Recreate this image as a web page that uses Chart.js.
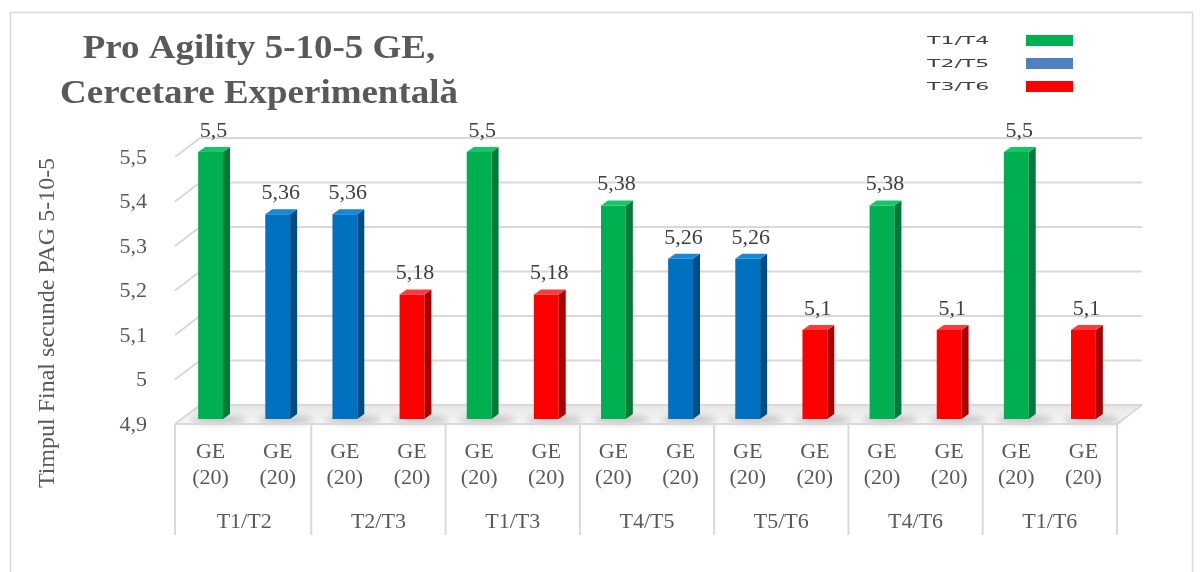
<!DOCTYPE html>
<html>
<head>
<meta charset="utf-8">
<script src="https://cdn.jsdelivr.net/npm/chart.js@4.4.1/dist/chart.umd.min.js"></script>
<style>
    html, body { margin: 0; padding: 0; background: #fff; }
</style>
</head>
<body>
<canvas id="barCanvas" width="1201" height="572"></canvas>
<script>
// valorile
const groupLabels = ["T1/T2", "T2/T3", "T1/T3", "T4/T5", "T5/T6", "T4/T6", "T1/T6"]
const barLabels = groupLabels.flatMap(() => [["GE", "(20)"], ["GE", "(20)"]])
const barTests = ["T1", "T2", "T2", "T3", "T1", "T3", "T4", "T5", "T5", "T6", "T4", "T6", "T1", "T6"]
const barValues = [5.5, 5.36, 5.36, 5.18, 5.5, 5.18, 5.38, 5.26, 5.26, 5.1, 5.38, 5.1, 5.5, 5.1]
const seriesNames = ["T1/T4", "T2/T5", "T3/T6"]
const yTicks = [4.9, 5, 5.1, 5.2, 5.3, 5.4, 5.5]

// culori
const frontColors = ["#00B050", "#0070C0", "#FF0000"]
const sideColors = ["#007A38", "#004C84", "#A80000"]
const topColors = ["#14C764", "#1A86D6", "#FF3B3B"]
const legendColors = ["#00B050", "#4F81BD", "#FF0000"]
const textGray = "#595959"

// bara -> seria (T1/T4, T2/T5, T3/T6)
function serieDe(i) {
    return seriesNames.findIndex(s => s.split("/").includes(barTests[i]))
}
function virgula(v) {
    return String(Math.round(v * 100) / 100).replace(".", ",")
}

const DX = 25, BACK = -14, FRONT = 5 // perspectiva 3D

const decor = {
    id: "decor",
    beforeDraw(chart) {
        const ctx = chart.ctx, a = chart.chartArea, y = chart.scales.y, x = chart.scales.x
        ctx.save()
        // cadrul exterior
        ctx.strokeStyle = "#d9d9d9"
        ctx.lineWidth = 1.5
        ctx.beginPath()
        ctx.moveTo(10.5, 572); ctx.lineTo(10.5, 12.5); ctx.lineTo(1192.5, 12.5); ctx.lineTo(1192.5, 572)
        ctx.stroke()

        const base = y.getPixelForValue(yTicks[0])
        // podeaua
        const grad = ctx.createLinearGradient(0, base + BACK, 0, base + FRONT)
        grad.addColorStop(0, "#e6e6e6")
        grad.addColorStop(1, "#f7f7f7")
        ctx.fillStyle = grad
        ctx.beginPath()
        ctx.moveTo(a.left - 2, base + FRONT)
        ctx.lineTo(a.left - 2 + DX, base + BACK)
        ctx.lineTo(a.right + DX, base + BACK)
        ctx.lineTo(a.right, base + FRONT)
        ctx.closePath()
        ctx.fill()

        // grila 3D
        ctx.strokeStyle = "#d9d9d9"
        ctx.lineWidth = 2
        yTicks.forEach(v => {
            const p = y.getPixelForValue(v)
            ctx.beginPath()
            ctx.moveTo(a.left - 2, p + FRONT)
            ctx.lineTo(a.left - 2 + DX, p + BACK)
            ctx.lineTo(a.right + DX, p + BACK)
            ctx.stroke()
        })
        ctx.beginPath()
        ctx.moveTo(a.right, base + FRONT)
        ctx.lineTo(a.right + DX, base + BACK)
        ctx.stroke()

        // umbre sub bare
        const meta = chart.getDatasetMeta(0)
        ctx.filter = "blur(3px)"
        ctx.fillStyle = "rgba(0,0,0,0.2)"
        meta.data.forEach(el => {
            ctx.beginPath()
            ctx.ellipse(el.x + 8, base + 1, 28, 4, 0, 0, Math.PI * 2)
            ctx.fill()
        })
        ctx.filter = "none"

        // casutele axei x
        const jos = 535
        ctx.strokeStyle = "#d9d9d9"
        ctx.lineWidth = 2
        ctx.beginPath()
        ctx.moveTo(a.left - 2, base + FRONT)
        ctx.lineTo(a.right, base + FRONT)
        for (let g = 0; g <= groupLabels.length; g++) {
            let px
            if (g === 0) px = a.left - 2
            else if (g === groupLabels.length) px = a.right
            else px = (x.getPixelForValue(2 * g - 1) + x.getPixelForValue(2 * g)) / 2
            ctx.moveTo(px, base + FRONT)
            ctx.lineTo(px, jos)
        }
        ctx.stroke()

        // titlul (usor latit ca in original)
        ctx.fillStyle = textGray
        ctx.font = "bold 33px 'Liberation Serif'"
        ctx.textAlign = "center"
        ctx.textBaseline = "middle"
        ctx.save()
        ctx.translate(259, 0)
        ctx.scale(1.12, 1)
        ctx.fillText("Pro Agility 5-10-5 GE,", 0, 49)
        ctx.fillText("Cercetare Experimentală", 0, 94)
        ctx.restore()

        // titlul axei y
        ctx.save()
        ctx.translate(48, 323)
        ctx.rotate(-Math.PI / 2)
        ctx.font = "24px 'Liberation Serif'"
        ctx.fillText("Timpul Final secunde PAG 5-10-5", 0, 0)
        ctx.restore()
        ctx.restore()
    },
    afterDatasetsDraw(chart) {
        const ctx = chart.ctx
        const meta = chart.getDatasetMeta(0)
        const podea = chart.scales.y.getPixelForValue(yTicks[0])
        ctx.save()
        meta.data.forEach((el, i) => {
            const s = serieDe(i)
            const l = el.x - el.width / 2, r = el.x + el.width / 2, t = el.y, b = Math.min(el.base, podea)
            // latura
            ctx.fillStyle = sideColors[s]
            ctx.beginPath()
            ctx.moveTo(r, t); ctx.lineTo(r + 7, t - 5); ctx.lineTo(r + 7, b - 5); ctx.lineTo(r, b)
            ctx.closePath(); ctx.fill()
            // capac
            ctx.fillStyle = topColors[s]
            ctx.beginPath()
            ctx.moveTo(l, t); ctx.lineTo(l + 7, t - 5); ctx.lineTo(r + 7, t - 5); ctx.lineTo(r, t)
            ctx.closePath(); ctx.fill()
            // eticheta valorii
            ctx.fillStyle = "#404040"
            ctx.font = "22px 'Liberation Serif'"
            ctx.textAlign = "center"
            ctx.textBaseline = "middle"
            ctx.fillText(virgula(barValues[i]), el.x + 3, t - 21)
        })
        ctx.restore()
    },
    afterDraw(chart) {
        // legenda: text la stanga, patrat colorat la dreapta
        const ctx = chart.ctx
        ctx.save()
        seriesNames.forEach((nume, k) => {
            const cy = 41 + k * 23
            ctx.save()
            ctx.translate(927, cy)
            ctx.scale(2, 1)
            ctx.fillStyle = "#404040"
            ctx.font = "11px 'DejaVu Sans'"
            ctx.textBaseline = "middle"
            ctx.fillText(nume, 0, 0)
            ctx.restore()
            ctx.fillStyle = legendColors[k]
            ctx.fillRect(1026, cy - 6, 47, 11)
        })
        ctx.restore()
    }
}

const barCanvas = document.getElementById("barCanvas")
const barChart = new Chart(barCanvas, {
    type: "bar",
    data: {
        labels: barLabels,
        datasets: [{
            data: barValues,
            backgroundColor: barValues.map((v, i) => frontColors[serieDe(i)]),
            categoryPercentage: 1,
            barPercentage: 0.37
        }]
    },
    options: {
        responsive: false,
        animation: false,
        layout: { padding: { left: 0, top: 152, right: 84, bottom: 23 } },
        plugins: {
            legend: { display: false },
            tooltip: { enabled: false }
        },
        scales: {
            y: {
                min: 4.9,
                max: 5.5,
                afterBuildTicks: scale => { scale.ticks = yTicks.map(v => ({ value: v })) },
                afterFit: scale => { scale.width = 177 },
                grid: { display: false },
                border: { display: false },
                ticks: {
                    color: textGray,
                    padding: 22,
                    labelOffset: 6,
                    font: { family: "'Liberation Serif'", size: 22 },
                    callback: v => virgula(v)
                }
            },
            x: {
                afterFit: scale => { scale.height = 80 },
                grid: { display: false, drawTicks: false },
                border: { display: false },
                ticks: {
                    color: textGray,
                    padding: 20,
                    autoSkip: false,
                    maxRotation: 0,
                    font: { family: "'Liberation Serif'", size: 22, lineHeight: 1.2 }
                }
            },
            x2: {
                type: "category",
                position: "bottom",
                weight: 1,
                labels: groupLabels,
                offset: true,
                afterFit: scale => { scale.height = 50 },
                grid: { display: false, drawTicks: false },
                border: { display: false },
                ticks: {
                    color: textGray,
                    padding: 10,
                    autoSkip: false,
                    maxRotation: 0,
                    font: { family: "'Liberation Serif'", size: 22, lineHeight: 1.2 }
                }
            }
        }
    },
    plugins: [decor]
})
</script>
</body>
</html>
